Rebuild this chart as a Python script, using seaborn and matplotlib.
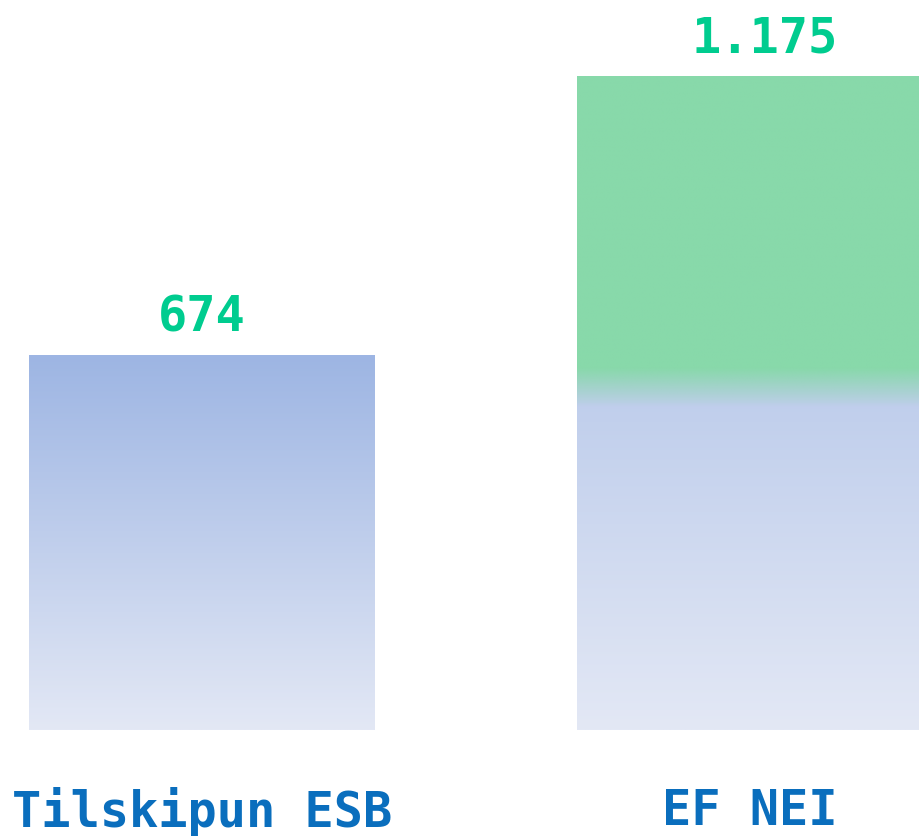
import numpy as np
import pandas as pd
import matplotlib
matplotlib.use("Agg")
import matplotlib.pyplot as plt
import seaborn as sns
from matplotlib.colors import to_rgb

categories = ["Tilskipun ESB", "EF NEI"]
values = [674, 1175]
value_labels = ["674", "1.175"]
green_share = [0.0, 0.5]   # top share of each bar highlighted in green

blue_top = "#9db5e3"
blue_bottom = "#e3e8f5"
green = "#88d9aa"
label_color = "#0a6ebd"
value_color = "#00cc8f"

sns.set_theme(style="white")
plt.rcParams['font.family'] = ['DejaVu Sans Mono', 'DejaVu Sans']

W, H = 919, 836
fig = plt.figure(figsize=(W / 100, H / 100), dpi=100)
ax = fig.add_axes([0, 106 / H, 1, 730 / H])

df = pd.DataFrame({"cat": categories, "val": values})
sns.barplot(data=df, x="cat", y="val", ax=ax, width=0.631,
            color="white", edgecolor="none", linewidth=0)

ax.set_xlim(-202 / 548, (919 - 202) / 548)
ax.set_ylim(0, 730 / 0.5564)

t = np.linspace(0, 1, 256)[:, None]  # 0 bottom -> 1 top
ct, cb = np.array(to_rgb(blue_top)), np.array(to_rgb(blue_bottom))
gcol = np.array(to_rgb(green))

for i, patch in enumerate(ax.patches):
    x0 = patch.get_x()
    w = patch.get_width()
    h = patch.get_height()
    grad = cb[None, None, :] * (1 - t[..., None]) + ct[None, None, :] * t[..., None]
    grad = np.repeat(grad, 2, axis=1)
    im = ax.imshow(grad, extent=[x0, x0 + w, 0, h], origin="lower",
                   aspect="auto", zorder=2, interpolation="bilinear")
    im.set_clip_path(patch)
    gs = green_share[i]
    if gs > 0:
        n = 512
        tt = np.linspace(0, 1, n)
        start = 1 - gs - 0.006
        fade = 0.06
        alpha = np.clip((tt - start) / fade, 0, 1)
        rgba = np.zeros((n, 2, 4))
        rgba[..., :3] = gcol
        rgba[..., 3] = alpha[:, None]
        im2 = ax.imshow(rgba, extent=[x0, x0 + w, 0, h], origin="lower",
                        aspect="auto", zorder=3, interpolation="bilinear")
        im2.set_clip_path(patch)

offsets = [0.0, 0.027]
for i, (v, lab) in enumerate(zip(values, value_labels)):
    ax.annotate(lab, xy=(i + offsets[i], v), xytext=(0, 10),
                textcoords="offset points", ha="center", va="bottom",
                fontsize=35, fontweight="bold", color=value_color,
                annotation_clip=False)

ax.set_xticks(range(len(categories)))
ax.set_xticklabels(categories, fontsize=35, fontweight="bold", color=label_color)
ax.tick_params(axis="x", length=0, pad=41)
ax.set_yticks([])
ax.set_xlabel("")
ax.set_ylabel("")
for s in ax.spines.values():
    s.set_visible(False)

fig.savefig("out.png", dpi=100, facecolor="white")
